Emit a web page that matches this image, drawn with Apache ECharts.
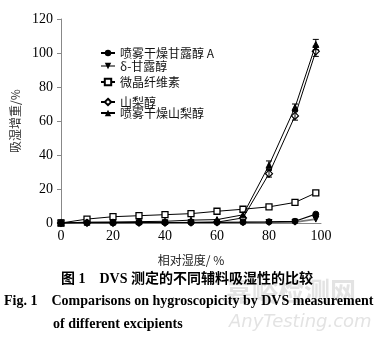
<!DOCTYPE html>
<html>
<head>
<meta charset="utf-8">
<script src="https://cdn.jsdelivr.net/npm/echarts@6/dist/echarts.min.js"></script>
<style>
  html, body { margin: 0; padding: 0; background: #fff; }
  #chart { width: 374px; height: 340px; }
</style>
</head>
<body>
<div id="chart"></div>
<script>
// Relative humidity steps (%)
const rh = [0, 10, 20, 30, 40, 50, 60, 70, 80, 90, 98];

// Moisture uptake (%) per excipient
const sprayMannitolA = [0, 0.2, 0.2, 0.3, 0.3, 0.3, 0.4, 0.5, 0.7, 1.0, 5.2];
const deltaMannitol  = [0, 0.1, 0.1, 0.1, 0.1, 0.2, 0.2, 0.2, 0.3, 0.5, 2.3];
const mcc            = [0, 2.3, 3.7, 4.3, 4.9, 5.5, 6.9, 8.1, 9.5, 12.1, 17.7];
const sorbitol       = [0, 0.1, 0.1, 0.2, 0.2, 0.3, 0.5, 3.0, 29, 63, 101];
const spraySorbitol  = [0, 0.5, 0.6, 0.8, 1.0, 1.7, 2.0, 4.8, 34, 68, 105];

// Standard deviations shown as error bars (high-humidity steps)
const sorbitolSd      = [0, 0, 0, 0, 0, 0, 0, 0, 2.0, 2.5, 3.0];
const spraySorbitolSd = [0, 0, 0, 0, 0, 0, 0, 0, 2.5, 2.0, 3.0];

// Axis ticks
const xTicks = [0, 20, 40, 60, 80, 100];
const yTicks = [0, 20, 40, 60, 80, 100, 120];

const names = ['喷雾干燥甘露醇 A', 'δ-甘露醇', '微晶纤维素', '山梨醇', '喷雾干燥山梨醇'];

const serif = '"Liberation Serif", "Times New Roman", serif';
const cjk = '"Noto Sans CJK SC", sans-serif';

function pairs(ys) { return rh.map((x, i) => [x, ys[i]]); }
function errPairs(ys, sd) {
  const out = [];
  rh.forEach((x, i) => { if (sd[i] > 0) out.push([x, ys[i] - sd[i], ys[i] + sd[i]]); });
  return out;
}

function errorBarSeries(data) {
  return {
    type: 'custom',
    data: data,
    z: 5,
    silent: true,
    renderItem: function (params, api) {
      const x = api.value(0);
      const lo = api.coord([x, api.value(1)]);
      const hi = api.coord([x, api.value(2)]);
      const w = 3;
      const st = { stroke: '#000', lineWidth: 1 };
      return {
        type: 'group',
        children: [
          { type: 'line', shape: { x1: lo[0], y1: lo[1], x2: hi[0], y2: hi[1] }, style: st },
          { type: 'line', shape: { x1: lo[0] - w, y1: lo[1], x2: lo[0] + w, y2: lo[1] }, style: st },
          { type: 'line', shape: { x1: hi[0] - w, y1: hi[1], x2: hi[0] + w, y2: hi[1] }, style: st }
        ]
      };
    }
  };
}

const legendTops = [42, 55, 71, 91, 102];
const legends = names.map((n, i) => ({
  data: [n],
  left: 95,
  top: legendTops[i],
  orient: 'vertical',
  itemWidth: 14,
  itemHeight: 8,
  itemGap: 3,
  textStyle: { fontFamily: cjk, fontSize: 12, color: '#111' }
}));

const chart = echarts.init(document.getElementById('chart'), null, { renderer: 'canvas' });

chart.setOption({
  animation: false,
  backgroundColor: '#fff',
  grid: { left: 61, right: 53, top: 19, bottom: 117 },
  legend: legends,
  xAxis: {
    type: 'value',
    min: xTicks[0],
    max: xTicks[xTicks.length - 1],
    interval: 20,
    name: '相对湿度/ %',
    nameLocation: 'middle',
    nameGap: 31,
    nameTextStyle: { fontFamily: cjk, fontSize: 12, color: '#222' },
    axisLine: { onZero: false, lineStyle: { color: '#888', width: 1 } },
    axisTick: { show: false },
    splitLine: { show: false },
    axisLabel: { fontFamily: serif, fontSize: 14, color: '#000', margin: 6 }
  },
  yAxis: {
    type: 'value',
    min: yTicks[0],
    max: yTicks[yTicks.length - 1],
    interval: 20,
    name: '吸湿增重/%',
    nameLocation: 'middle',
    nameGap: 40,
    nameRotate: 90,
    nameTextStyle: { fontFamily: cjk, fontSize: 12, color: '#333' },
    axisLine: { show: true, lineStyle: { color: '#888', width: 1 } },
    axisTick: { show: true, inside: false, length: 4, lineStyle: { color: '#888' } },
    splitLine: { show: false },
    axisLabel: { fontFamily: serif, fontSize: 14, color: '#000', margin: 8 }
  },
  series: [
    {
      name: names[0], type: 'line', data: pairs(sprayMannitolA),
      symbol: 'circle', symbolSize: 6, z: 4,
      lineStyle: { color: '#000', width: 1.2 },
      itemStyle: { color: '#000', borderColor: '#000' }
    },
    {
      name: names[1], type: 'line', data: pairs(deltaMannitol),
      symbol: 'triangle', symbolRotate: 180, symbolSize: 6, z: 3,
      lineStyle: { color: '#7a7a7a', width: 1.8 },
      itemStyle: { color: '#000', borderColor: '#000' }
    },
    {
      name: names[2], type: 'line', data: pairs(mcc),
      symbol: 'rect', symbolSize: 6, z: 3,
      lineStyle: { color: '#000', width: 1 },
      itemStyle: { color: '#fff', borderColor: '#000', borderWidth: 1.3 }
    },
    {
      name: names[3], type: 'line', data: pairs(sorbitol),
      symbol: 'diamond', symbolSize: 7, z: 3,
      lineStyle: { color: '#000', width: 1 },
      itemStyle: { color: '#fff', borderColor: '#000', borderWidth: 1.2 }
    },
    {
      name: names[4], type: 'line', data: pairs(spraySorbitol),
      symbol: 'triangle', symbolSize: 6, z: 4,
      lineStyle: { color: '#000', width: 1 },
      itemStyle: { color: '#000', borderColor: '#000' }
    },
    errorBarSeries(errPairs(sorbitol, sorbitolSd)),
    errorBarSeries(errPairs(spraySorbitol, spraySorbitolSd))
  ],
  graphic: [
    {
      type: 'text', left: 226, top: 278, z: -1,
      style: {
        text: '嘉峪检测网',
        font: 'bold 26px "Noto Sans CJK SC", sans-serif',
        fill: '#e3e3e3'
      }
    },
    {
      type: 'text', left: 229, top: 313, z: -1,
      style: {
        text: 'AnyTesting.com',
        font: 'italic 18px "DejaVu Sans", sans-serif',
        fill: '#e3e3e3'
      }
    },
    {
      type: 'text', left: 'center', top: 272,
      style: {
        text: '图 1    DVS 测定的不同辅料吸湿性的比较',
        font: 'bold 14px "Liberation Serif", "Noto Sans CJK SC", serif',
        fill: '#000'
      }
    },
    {
      type: 'text', left: 4, top: 294,
      style: {
        text: 'Fig. 1    Comparisons on hygroscopicity by DVS measurement',
        font: 'bold 14px "Liberation Serif", serif',
        fill: '#000'
      }
    },
    {
      type: 'text', left: 53, top: 317,
      style: {
        text: 'of different excipients',
        font: 'bold 14px "Liberation Serif", serif',
        fill: '#000'
      }
    }
  ]
});
</script>
</body>
</html>
